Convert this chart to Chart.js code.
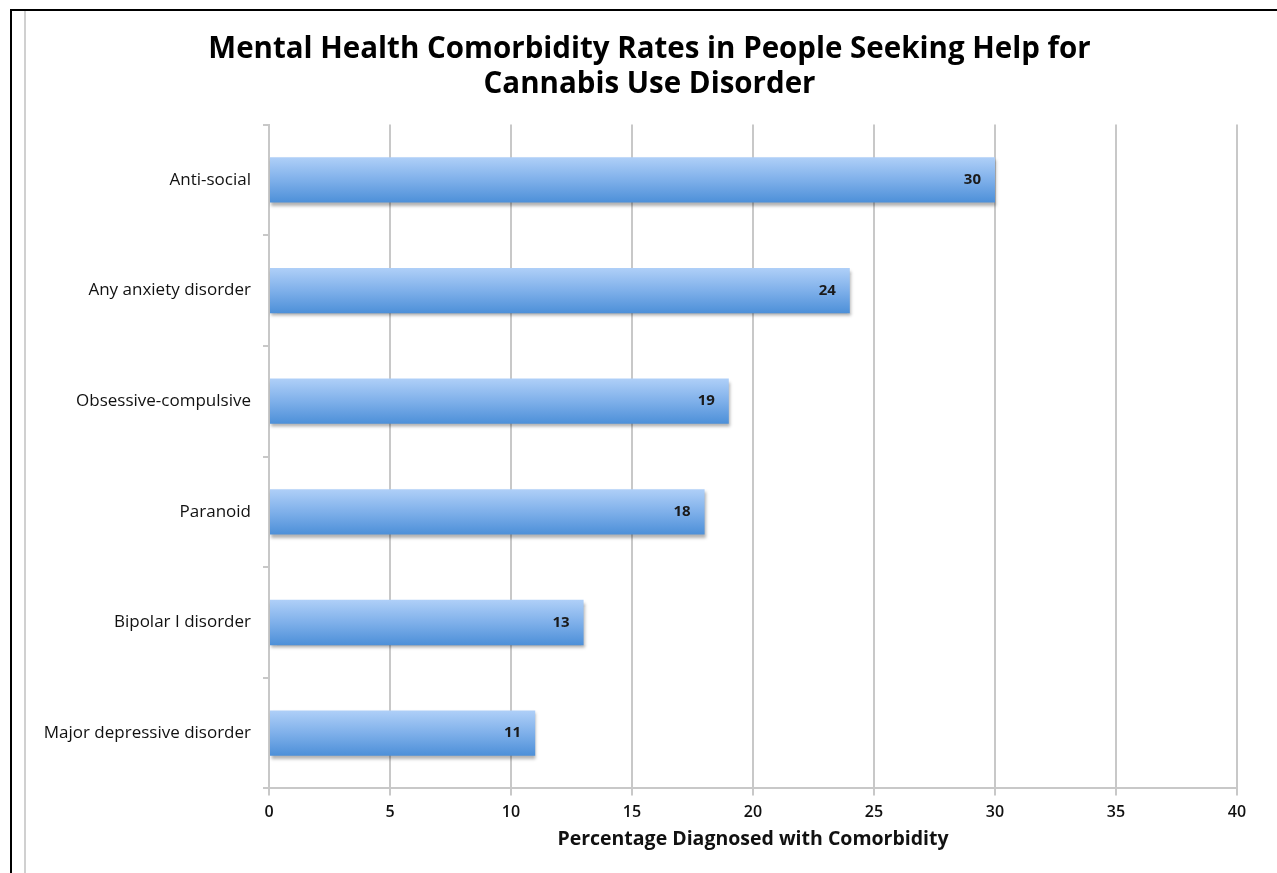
<!DOCTYPE html>
<html>
<head>
<meta charset="utf-8">
<script src="https://cdn.jsdelivr.net/npm/chart.js@4"></script>
<style>
  body { margin: 0; background: #fff; }
  #wrap { position: relative; width: 1277px; height: 873px; }
  #barChart { position: absolute; left: 0; top: 0; }
  .line { position: absolute; pointer-events: none; }
</style>
</head>
<body>
<div id="wrap">
  <canvas id="barChart" width="1277" height="873"></canvas>
  <div class="line" style="left:10px;top:9px;width:1267px;height:2px;background:#000"></div>
  <div class="line" style="left:10px;top:9px;width:2px;height:864px;background:#000"></div>
  <div class="line" style="left:24px;top:11px;width:2px;height:862px;background:#d0d0d0"></div>
</div>
<script>
const categories = ['Anti-social', 'Any anxiety disorder', 'Obsessive-compulsive', 'Paranoid', 'Bipolar I disorder', 'Major depressive disorder'];
const rates = [30, 24, 19, 18, 13, 11];
const xTicks = [0, 5, 10, 15, 20, 25, 30, 35, 40];

const fontFamily = '"Open Sans", "Liberation Sans", sans-serif';

function barGradient(context) {
  const chart = context.chart;
  const y = chart.scales.y;
  if (!y || context.dataIndex === undefined) return '#7aaee8';
  const center = y.getPixelForValue(context.dataIndex);
  if (!isFinite(center)) return '#7aaee8';
  const half = 23;
  const g = chart.ctx.createLinearGradient(0, center - half, 0, center + half);
  g.addColorStop(0, '#b0d0f8');
  g.addColorStop(0.5, '#7fb0ea');
  g.addColorStop(1, '#4c8fd8');
  return g;
}

// nudge the title so it sits over the middle of the page, not the padded box
const titleShift = {
  id: 'titleShift',
  afterLayout(chart) {
    if (chart.titleBlock) {
      chart.titleBlock.left += 21;
      chart.titleBlock.right += 21;
    }
  }
};

// soft drop shadow under the bars
const shadowPlugin = {
  id: 'barShadow',
  beforeDatasetsDraw(chart) {
    const ctx = chart.ctx;
    ctx.save();
    ctx.shadowColor = 'rgba(0,0,0,0.3)';
    ctx.shadowOffsetY = 3;
    ctx.shadowOffsetX = 1;
    ctx.shadowBlur = 3;
  },
  afterDatasetsDraw(chart) {
    chart.ctx.restore();
  }
};

// value labels inside the bar ends
const valueLabels = {
  id: 'valueLabels',
  afterDraw(chart) {
    const ctx = chart.ctx;
    const meta = chart.getDatasetMeta(0);
    ctx.save();
    ctx.font = 'bold 15px ' + fontFamily;
    ctx.fillStyle = '#1a1a1a';
    ctx.textAlign = 'right';
    ctx.textBaseline = 'middle';
    meta.data.forEach((bar, i) => {
      ctx.fillText(String(rates[i]), bar.x - 14, bar.y);
    });
    ctx.restore();
  }
};

const barConfig = {
  type: 'bar',
  data: {
    labels: categories,
    datasets: [{
      data: rates,
      backgroundColor: barGradient,
      borderWidth: 0,
      barPercentage: 0.41,
      categoryPercentage: 1
    }]
  },
  options: {
    indexAxis: 'y',
    responsive: false,
    animation: false,
    layout: {
      padding: { left: 20, right: 40, top: 0, bottom: 22 }
    },
    plugins: {
      legend: { display: false },
      tooltip: { enabled: false },
      title: {
        display: true,
        text: ['Mental Health Comorbidity Rates in People Seeking Help for', 'Cannabis Use Disorder'],
        color: '#000',
        font: { family: fontFamily, size: 29.5, weight: 'bold', lineHeight: 1.18 },
        padding: { top: 32, bottom: 23 }
      }
    },
    scales: {
      x: {
        min: 0,
        max: 40,
        afterBuildTicks(scale) {
          scale.ticks = xTicks.map(v => ({ value: v }));
        },
        grid: {
          color: '#c8c8c8',
          lineWidth: 2,
          tickLength: 7,
          drawTicks: true
        },
        border: { color: '#c8c8c8', width: 2 },
        ticks: {
          color: '#111',
          padding: 7,
          font: { family: fontFamily, size: 16, weight: '600' }
        },
        title: {
          display: true,
          text: 'Percentage Diagnosed with Comorbidity',
          color: '#111',
          font: { family: fontFamily, size: 19.5, weight: 'bold' },
          padding: { top: -1, bottom: 0 }
        }
      },
      y: {
        afterFit(scale) {
          scale.width = 249;
        },
        grid: {
          offset: true,
          drawOnChartArea: false,
          color: '#c8c8c8',
          lineWidth: 2,
          tickLength: 6
        },
        border: { color: '#c8c8c8', width: 2 },
        ticks: {
          color: '#111',
          padding: 12,
          font: { family: fontFamily, size: 17 }
        }
      }
    }
  },
  plugins: [titleShift, shadowPlugin, valueLabels]
};

const myBarChart = new Chart(document.getElementById('barChart'), barConfig);
</script>
</body>
</html>
